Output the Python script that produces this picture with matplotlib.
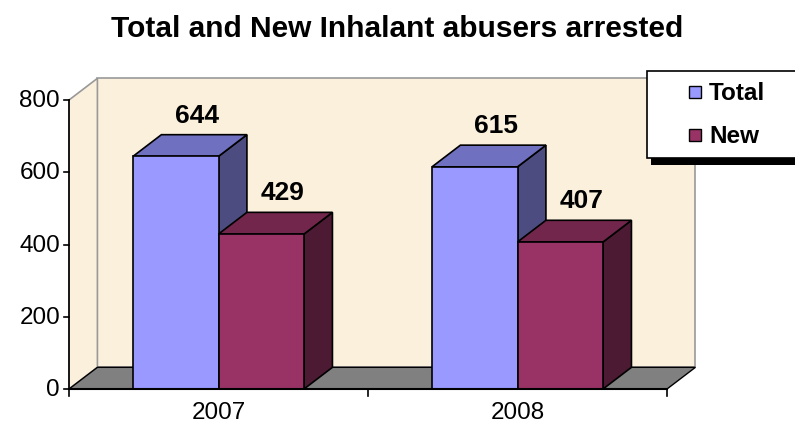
import matplotlib.pyplot as plt
from matplotlib.patches import Polygon, Rectangle

plt.rcParams['font.family'] = ['Liberation Sans', 'DejaVu Sans']

TITLE = "Total and New Inhalant abusers arrested"
CATEGORIES = ["2007", "2008"]
SERIES = ["Total", "New"]
TOTAL = [644, 615]
NEW = [429, 407]
Y_TICKS = [0, 200, 400, 600, 800]

FRONT = {"Total": "#9999FF", "New": "#993366"}
TOP = {"Total": "#7070C0", "New": "#73264C"}
SIDE = {"Total": "#4C4C80", "New": "#4D1A33"}
WALL = "#FBF0DC"
FLOOR = "#808080"

# 3d depth offset in data units (x: categories, y: values)
DX = 0.095
DY = 60
BAR_W = 0.286
YMAX = 800


def box(ax, x0, w, h, key):
    pts_front = [(x0, 0), (x0 + w, 0), (x0 + w, h), (x0, h)]
    pts_top = [(x0, h), (x0 + w, h), (x0 + w + DX, h + DY), (x0 + DX, h + DY)]
    pts_side = [(x0 + w, 0), (x0 + w + DX, DY), (x0 + w + DX, h + DY), (x0 + w, h)]
    for pts, c in [(pts_side, SIDE[key]), (pts_top, TOP[key]), (pts_front, FRONT[key])]:
        ax.add_patch(Polygon(pts, closed=True, fc=c, ec="black", lw=1.2, zorder=3))


fig = plt.figure(figsize=(7.95, 4.31), dpi=100)
ax = fig.add_axes([0, 0, 1, 1])
ax.set_xlim(-0.2308, 2.428)
ax.set_ylim(-113.5, 1079.6)
ax.axis("off")

n = len(CATEGORIES)
# walls and floor
ax.add_patch(Polygon([(DX, DY), (n + DX, DY), (n + DX, YMAX + DY), (DX, YMAX + DY)],
                     fc=WALL, ec="#999999", lw=1.2, zorder=1))
ax.add_patch(Polygon([(0, 0), (DX, DY), (DX, YMAX + DY), (0, YMAX)],
                     fc=WALL, ec="#999999", lw=1.2, zorder=1))
ax.add_patch(Polygon([(0, 0), (n, 0), (n + DX, DY), (DX, DY)],
                     fc=FLOOR, ec="black", lw=1.0, zorder=2))

# axes lines
ax.plot([0, 0], [0, YMAX], color="black", lw=1.2, zorder=4)
ax.plot([0, n], [0, 0], color="black", lw=1.5, zorder=4)
for t in Y_TICKS:
    ax.plot([-0.017, 0], [t, t], color="black", lw=1.2, zorder=4)
    ax.text(-0.03, t, str(t), ha="right", va="center", fontsize=17.5)
for i in range(n + 1):
    ax.plot([i, i], [0, -20], color="black", lw=1.2, zorder=4)
for i, c in enumerate(CATEGORIES):
    ax.text(i + 0.5, -64, c, ha="center", va="center", fontsize=17.5)

# bars
for i in range(n):
    vals = {"Total": TOTAL[i], "New": NEW[i]}
    for j, s in enumerate(SERIES):
        x0 = i + 0.5 - BAR_W + j * BAR_W
        h = vals[s]
        box(ax, x0, BAR_W, h, s)
        ax.text(x0 + BAR_W / 2 + DX / 2 + 0.025, h + DY + 55, str(h), ha="center", va="center",
                fontsize=19, fontweight="bold", zorder=5)

ax.text(0.5, 0.933, TITLE, transform=fig.transFigure, ha="center", va="center",
        fontsize=21.5, fontweight="bold")

# legend box with shadow
lx0, lx1 = 1.933, 2.5
ly0, ly1 = 639, 880
ax.add_patch(Rectangle((lx0 + 0.013, ly0 - 19), lx1 - lx0, ly1 - ly0, fc="black", ec="none", zorder=6))
ax.add_patch(Rectangle((lx0, ly0), lx1 - lx0, ly1 - ly0, fc="white", ec="black", lw=1.2, zorder=7))
for s, yy in zip(SERIES, [822, 703]):
    ax.add_patch(Rectangle((2.074, yy - 16), 0.038, 32, fc=FRONT[s], ec="black", lw=1, zorder=8))
    ax.text(2.141, yy, s, ha="left", va="center", fontsize=17.5, fontweight="bold", zorder=8)

fig.savefig("out.png", dpi=100)
